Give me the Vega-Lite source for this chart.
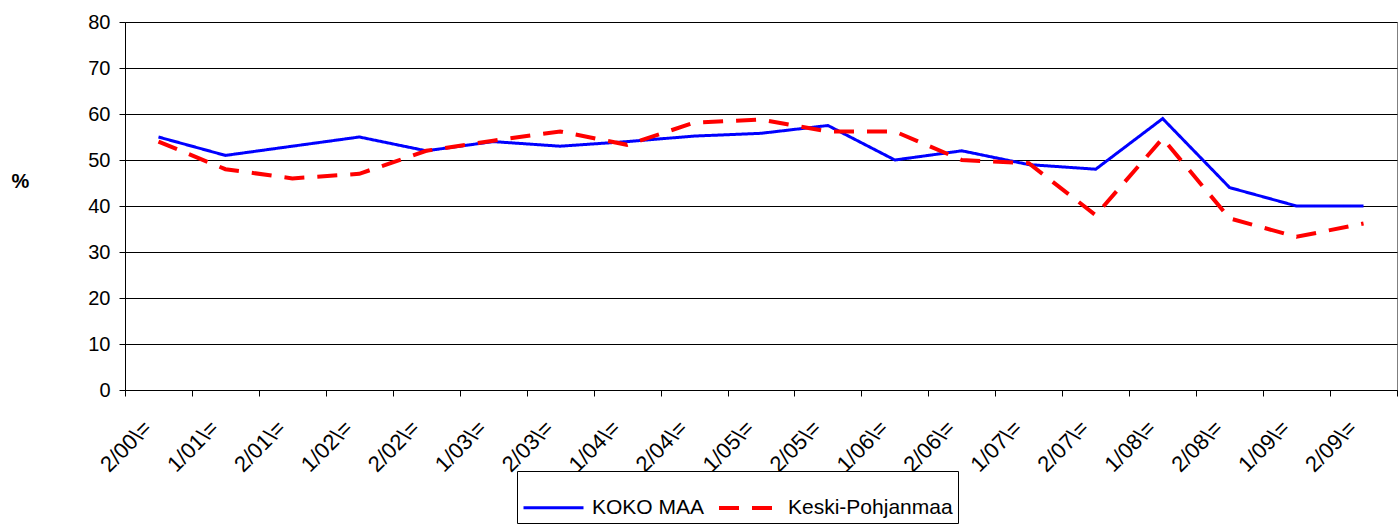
{
  "$schema": "https://vega.github.io/schema/vega-lite/v6.json",
  "width": 1272,
  "height": 368,
  "autosize": {"type": "none"},
  "padding": {"left": 125, "top": 22, "right": 3, "bottom": 139},
  "background": "white",
  "config": {
    "font": "Liberation Sans",
    "view": {"stroke": "#808080", "strokeWidth": 1},
    "axis": {"labelColor": "black", "labelFont": "Liberation Sans"}
  },
  "data": {
    "values": [
      {"period": "2/00\\=", "series": "KOKO MAA", "value": 55},
      {"period": "1/01\\=", "series": "KOKO MAA", "value": 51},
      {"period": "2/01\\=", "series": "KOKO MAA", "value": 53},
      {"period": "1/02\\=", "series": "KOKO MAA", "value": 55},
      {"period": "2/02\\=", "series": "KOKO MAA", "value": 52},
      {"period": "1/03\\=", "series": "KOKO MAA", "value": 54},
      {"period": "2/03\\=", "series": "KOKO MAA", "value": 53},
      {"period": "1/04\\=", "series": "KOKO MAA", "value": 54},
      {"period": "2/04\\=", "series": "KOKO MAA", "value": 55.2},
      {"period": "1/05\\=", "series": "KOKO MAA", "value": 55.8},
      {"period": "2/05\\=", "series": "KOKO MAA", "value": 57.5},
      {"period": "1/06\\=", "series": "KOKO MAA", "value": 50},
      {"period": "2/06\\=", "series": "KOKO MAA", "value": 52},
      {"period": "1/07\\=", "series": "KOKO MAA", "value": 49},
      {"period": "2/07\\=", "series": "KOKO MAA", "value": 48},
      {"period": "1/08\\=", "series": "KOKO MAA", "value": 59},
      {"period": "2/08\\=", "series": "KOKO MAA", "value": 44},
      {"period": "1/09\\=", "series": "KOKO MAA", "value": 40},
      {"period": "2/09\\=", "series": "KOKO MAA", "value": 40},
      {"period": "2/00\\=", "series": "Keski-Pohjanmaa", "value": 54},
      {"period": "1/01\\=", "series": "Keski-Pohjanmaa", "value": 48},
      {"period": "2/01\\=", "series": "Keski-Pohjanmaa", "value": 46},
      {"period": "1/02\\=", "series": "Keski-Pohjanmaa", "value": 47},
      {"period": "2/02\\=", "series": "Keski-Pohjanmaa", "value": 52},
      {"period": "1/03\\=", "series": "Keski-Pohjanmaa", "value": 54.2},
      {"period": "2/03\\=", "series": "Keski-Pohjanmaa", "value": 56.2},
      {"period": "1/04\\=", "series": "Keski-Pohjanmaa", "value": 53.3},
      {"period": "2/04\\=", "series": "Keski-Pohjanmaa", "value": 58.1},
      {"period": "1/05\\=", "series": "Keski-Pohjanmaa", "value": 58.8},
      {"period": "2/05\\=", "series": "Keski-Pohjanmaa", "value": 56.2},
      {"period": "1/06\\=", "series": "Keski-Pohjanmaa", "value": 56.2},
      {"period": "2/06\\=", "series": "Keski-Pohjanmaa", "value": 50},
      {"period": "1/07\\=", "series": "Keski-Pohjanmaa", "value": 49.3},
      {"period": "2/07\\=", "series": "Keski-Pohjanmaa", "value": 38},
      {"period": "1/08\\=", "series": "Keski-Pohjanmaa", "value": 54.7},
      {"period": "2/08\\=", "series": "Keski-Pohjanmaa", "value": 37.3},
      {"period": "1/09\\=", "series": "Keski-Pohjanmaa", "value": 33.3},
      {"period": "2/09\\=", "series": "Keski-Pohjanmaa", "value": 36.2}
    ]
  },
  "mark": {"type": "line", "strokeCap": "butt"},
  "encoding": {
    "x": {
      "field": "period",
      "type": "nominal",
      "sort": null,
      "bandPosition": 0.5,
      "scale": {"type": "band", "paddingInner": 0, "paddingOuter": 0},
      "axis": {
        "title": null,
        "labelAngle": -45,
        "labelAlign": "right",
        "labelBaseline": "middle",
        "labelFontSize": 22,
        "labelPadding": 28,
        "labelOffset": -11,
        "tickBand": "extent",
        "tickSize": 6,
        "tickColor": "black",
        "domainColor": "black",
        "grid": false
      }
    },
    "y": {
      "field": "value",
      "type": "quantitative",
      "scale": {"domain": [0, 80], "nice": false},
      "axis": {
        "title": "%",
        "titleAngle": 0,
        "titleFontSize": 20,
        "titleFontWeight": "bold",
        "titleAlign": "center",
        "titleBaseline": "middle",
        "titleX": -105,
        "titleY": 159,
        "values": [0, 10, 20, 30, 40, 50, 60, 70, 80],
        "labelFontSize": 20,
        "labelPadding": 9,
        "tickSize": 6,
        "tickColor": "black",
        "domainColor": "black",
        "grid": true,
        "gridColor": "black",
        "gridWidth": 1
      }
    },
    "color": {
      "field": "series",
      "type": "nominal",
      "sort": ["KOKO MAA", "Keski-Pohjanmaa"],
      "scale": {"domain": ["KOKO MAA", "Keski-Pohjanmaa"], "range": ["#0000ff", "#ff0000"]},
      "legend": {
        "title": null,
        "orient": "none",
        "direction": "horizontal",
        "legendX": 392,
        "legendY": 449,
        "strokeColor": "black",
        "fillColor": "white",
        "padding": 5,
        "symbolType": "stroke",
        "symbolSize": 3600,
        "symbolStrokeWidth": 3.5,
        "labelFontSize": 21,
        "labelColor": "black",
        "labelOffset": 7,
        "labelLimit": 0,
        "columnPadding": 6
      }
    },
    "strokeDash": {
      "field": "series",
      "type": "nominal",
      "sort": ["KOKO MAA", "Keski-Pohjanmaa"],
      "scale": {"domain": ["KOKO MAA", "Keski-Pohjanmaa"], "range": [[1, 0], [20, 13]]},
      "legend": {
        "title": null,
        "orient": "none",
        "direction": "horizontal",
        "legendX": 392,
        "legendY": 449,
        "strokeColor": "black",
        "fillColor": "white",
        "padding": 5,
        "symbolType": "stroke",
        "symbolSize": 3600,
        "symbolStrokeWidth": 3.5,
        "labelFontSize": 21,
        "labelColor": "black",
        "labelOffset": 7,
        "labelLimit": 0,
        "columnPadding": 6
      }
    },
    "strokeWidth": {
      "field": "series",
      "type": "nominal",
      "scale": {"domain": ["KOKO MAA", "Keski-Pohjanmaa"], "range": [3, 4]},
      "legend": null
    }
  }
}
